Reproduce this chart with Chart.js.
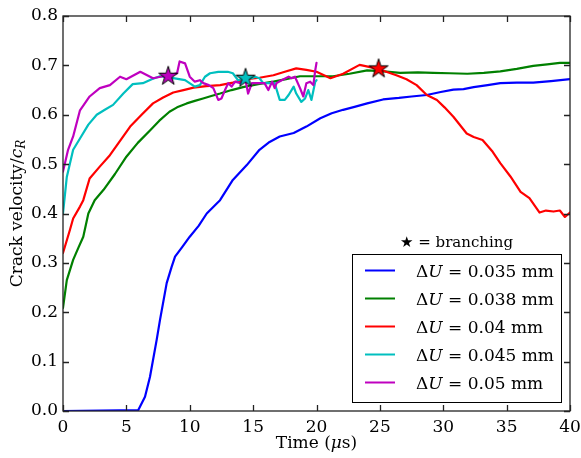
<!DOCTYPE html>
<html>
<head>
<meta charset="utf-8">
<title>Crack velocity</title>
<script src="https://cdn.jsdelivr.net/npm/chart.js@4.4.1/dist/chart.umd.min.js"></script>
<style>
  html, body { margin: 0; padding: 0; background: #fff; }
  #wrap { width: 581px; height: 458px; }
</style>
</head>
<body>
<div id="wrap"><canvas id="chart" width="581" height="458"></canvas></div>
<script>
// ---- data ----
const seriesLabels = ['0.035', '0.038', '0.04', '0.045', '0.05'];
const seriesColors = ['#0000ff', '#008000', '#ff0000', '#00bfbf', '#bf00bf'];

const t035 = [0, 5.94, 6.47, 6.86, 7.39, 7.65, 8.18, 8.57, 8.84, 9.4, 10.0, 10.7, 11.34, 12.39, 13.4, 14.5, 15.5, 16.3, 17.1, 18.2, 19.2, 20.3, 21.2, 22.1, 23.0, 24.0, 25.25, 26.5, 27.5, 28.7, 29.8, 30.8, 31.6, 32.4, 33.5, 34.5, 35.8, 37.1, 38.5, 40];
const v035 = [0, 0.002, 0.029, 0.069, 0.144, 0.184, 0.259, 0.292, 0.3125, 0.332, 0.353, 0.375, 0.40, 0.427, 0.468, 0.498, 0.529, 0.545, 0.556, 0.563, 0.576, 0.593, 0.603, 0.61, 0.616, 0.623, 0.631, 0.634, 0.637, 0.640, 0.646, 0.651, 0.652, 0.656, 0.66, 0.664, 0.665, 0.665, 0.668, 0.672];

const t038 = [0, 0.3, 0.8, 1.2, 1.6, 2.0, 2.5, 3.2, 4.1, 5.0, 5.9, 6.9, 7.6, 8.4, 9.0, 9.76, 10.4, 11.05, 11.7, 12.4, 13.3, 14.2, 15.4, 16.6, 17.6, 18.7, 20.3, 21.3, 22.6, 24.0, 25.3, 26.6, 28.0, 29.2, 30.5, 31.9, 33.2, 34.5, 35.8, 37.1, 38.2, 39.2, 40];
const v038 = [0.209, 0.265, 0.306, 0.33, 0.353, 0.40, 0.427, 0.448, 0.48, 0.515, 0.543, 0.569, 0.588, 0.606, 0.615, 0.623, 0.628, 0.633, 0.638, 0.643, 0.65, 0.656, 0.662, 0.667, 0.672, 0.678, 0.678, 0.678, 0.683, 0.69, 0.688, 0.685, 0.686, 0.685, 0.684, 0.683, 0.685, 0.688, 0.693, 0.699, 0.702, 0.705, 0.705];

const t040 = [0, 0.55, 0.8, 1.34, 1.6, 2.1, 2.9, 3.7, 4.5, 5.3, 6.2, 7.1, 7.9, 8.7, 9.5, 10.3, 11.3, 12.4, 13.4, 14.5, 15.5, 16.6, 17.5, 18.4, 19.2, 20.0, 21.1, 22.1, 23.4, 24.7, 25.5, 26.3, 27.1, 27.9, 28.7, 29.5, 30.1, 30.8, 31.85, 32.4, 33.1, 33.9, 34.5, 35.3, 36.1, 36.8, 37.6, 38.1, 38.7, 39.2, 39.6, 40];
const v040 = [0.32, 0.367, 0.39, 0.414, 0.427, 0.471, 0.495, 0.518, 0.547, 0.576, 0.60, 0.623, 0.635, 0.645, 0.65, 0.655, 0.658, 0.66, 0.665, 0.672, 0.675, 0.68, 0.687, 0.694, 0.691, 0.687, 0.674, 0.683, 0.701, 0.694, 0.687, 0.68, 0.672, 0.66, 0.64, 0.63, 0.615, 0.596, 0.562, 0.555, 0.549, 0.525, 0.502, 0.475, 0.444, 0.431, 0.402, 0.406, 0.404, 0.406, 0.393, 0.402];

const t045 = [0, 0.3, 0.8, 1.34, 2.0, 2.66, 3.3, 3.95, 4.76, 5.5, 6.3, 7.0, 7.65, 8.7, 9.63, 10.4, 10.8, 11.2, 11.6, 12.25, 13.0, 13.4, 13.8, 14.36, 14.9, 15.15, 15.5, 15.8, 16.7, 17.1, 17.5, 17.8, 18.2, 18.4, 18.8, 19.1, 19.35, 19.6, 19.9, 20.0];
const v045 = [0.40, 0.474, 0.529, 0.552, 0.58, 0.60, 0.61, 0.62, 0.643, 0.662, 0.664, 0.672, 0.678, 0.674, 0.67, 0.657, 0.66, 0.677, 0.684, 0.687, 0.687, 0.684, 0.670, 0.674, 0.674, 0.677, 0.674, 0.664, 0.664, 0.63, 0.63, 0.640, 0.657, 0.643, 0.626, 0.633, 0.65, 0.63, 0.667, 0.67];

const t050 = [0, 0.4, 0.8, 1.34, 2.1, 2.9, 3.7, 4.5, 5.0, 6.1, 7.1, 8.3, 9.0, 9.2, 9.63, 10.0, 10.4, 10.8, 11.07, 11.5, 11.86, 12.25, 12.5, 12.78, 13.04, 13.3, 13.57, 14.0, 14.36, 14.5, 14.6, 14.9, 15.7, 15.9, 16.2, 16.5, 16.7, 16.85, 17.25, 17.8, 18.04, 18.3, 18.7, 18.96, 19.2, 19.5, 19.75, 19.9, 20.0];
const v050 = [0.485, 0.529, 0.556, 0.609, 0.637, 0.654, 0.66, 0.677, 0.672, 0.687, 0.674, 0.68, 0.684, 0.708, 0.704, 0.677, 0.667, 0.670, 0.664, 0.660, 0.654, 0.630, 0.633, 0.650, 0.664, 0.657, 0.667, 0.664, 0.674, 0.657, 0.643, 0.664, 0.664, 0.664, 0.650, 0.667, 0.654, 0.664, 0.670, 0.677, 0.674, 0.677, 0.654, 0.637, 0.664, 0.667, 0.66, 0.69, 0.705];

// branching points
const starT = [8.3, 14.4, 24.9];
const starV = [0.679, 0.675, 0.694];
const starColors = ['#bf00bf', '#00bfbf', '#ff0000'];

const xTicks = [0, 5, 10, 15, 20, 25, 30, 35, 40];
const yTicks = [0.0, 0.1, 0.2, 0.3, 0.4, 0.5, 0.6, 0.7, 0.8];

const FONT = "'DejaVu Serif', serif";

function pts(ts, vs) { return ts.map((t, i) => ({ x: t, y: vs[i] })); }

function starImage(color) {
  const c = document.createElement('canvas');
  c.width = 24; c.height = 24;
  const g = c.getContext('2d');
  g.beginPath();
  for (let i = 0; i < 10; i++) {
    const r = i % 2 ? 3.8 : 10;
    const a = -Math.PI / 2 + i * Math.PI / 5;
    g.lineTo(12 + r * Math.cos(a), 12.5 + r * Math.sin(a));
  }
  g.closePath();
  g.fillStyle = color; g.fill();
  g.lineWidth = 1; g.strokeStyle = '#000'; g.stroke();
  return c;
}

// draw a row of text pieces (some italic / subscript), returns end x
function drawRuns(ctx, runs, x, y, size) {
  runs.forEach(r => {
    const s = r.size || size;
    ctx.font = (r.italic ? 'italic ' : '') + s + 'px ' + (r.family || FONT);
    ctx.fillText(r.text, x, y + (r.dy || 0));
    x += ctx.measureText(r.text).width;
  });
  return x;
}
function runsWidth(ctx, runs, size) {
  let w = 0;
  runs.forEach(r => {
    ctx.font = (r.italic ? 'italic ' : '') + (r.size || size) + 'px ' + (r.family || FONT);
    w += ctx.measureText(r.text).width;
  });
  return w;
}

const decorations = {
  id: 'decorations',
  afterDraw(chart) {
    const { ctx, chartArea: a, scales: { x, y } } = chart;
    ctx.save();
    // frame and inward ticks on all four sides
    ctx.strokeStyle = '#222';
    ctx.lineWidth = 1.3;
    ctx.strokeRect(a.left, a.top, a.right - a.left, a.bottom - a.top);
    ctx.beginPath();
    xTicks.forEach(v => {
      const px = Math.round(x.getPixelForValue(v)) + 0.5;
      ctx.moveTo(px, a.bottom); ctx.lineTo(px, a.bottom - 6);
      ctx.moveTo(px, a.top); ctx.lineTo(px, a.top + 6);
    });
    yTicks.forEach(v => {
      const py = Math.round(y.getPixelForValue(v)) + 0.5;
      ctx.moveTo(a.left, py); ctx.lineTo(a.left + 6, py);
      ctx.moveTo(a.right, py); ctx.lineTo(a.right - 6, py);
    });
    ctx.stroke();

    ctx.fillStyle = '#000';
    ctx.textBaseline = 'alphabetic';
    ctx.textAlign = 'left';

    // x axis title
    const xt = [{ text: 'Time (' }, { text: 'μ', italic: true }, { text: 's)' }];
    const xw = runsWidth(ctx, xt, 17);
    drawRuns(ctx, xt, (a.left + a.right) / 2 - xw / 2, 448, 17);

    // y axis title, rotated
    const yt = [{ text: 'Crack velocity/' }, { text: 'c', italic: true }, { text: 'R', italic: true, size: 12, dy: 3 }];
    const yw = runsWidth(ctx, yt, 17);
    ctx.save();
    ctx.translate(22, (a.top + a.bottom) / 2);
    ctx.rotate(-Math.PI / 2);
    drawRuns(ctx, yt, -yw / 2, 0, 17);
    ctx.restore();

    // legend box
    const bw = 209, bh = 148;
    const bx = a.right - 9 - bw, by = a.bottom - 9 - bh;
    ctx.fillStyle = '#fff';
    ctx.fillRect(bx, by, bw, bh);
    ctx.strokeStyle = '#000';
    ctx.lineWidth = 1;
    ctx.strokeRect(bx + 0.5, by + 0.5, bw, bh);
    seriesLabels.forEach((lab, i) => {
      const ry = by + 16.5 + i * 28;
      ctx.strokeStyle = seriesColors[i];
      ctx.lineWidth = 2;
      ctx.beginPath();
      ctx.moveTo(bx + 13, ry); ctx.lineTo(bx + 43, ry);
      ctx.stroke();
      ctx.fillStyle = '#000';
      drawRuns(ctx, [{ text: 'Δ' }, { text: 'U', italic: true }, { text: ' = ' + lab + ' mm' }], bx + 64, ry + 6, 17);
    });

    // legend title
    const tt = [{ text: '★', family: "'DejaVu Sans', sans-serif" }, { text: ' = branching' }];
    const tw = runsWidth(ctx, tt, 15);
    ctx.fillStyle = '#000';
    drawRuns(ctx, tt, bx + bw / 2 - tw / 2, by - 7, 15);
    ctx.restore();
  }
};

const datasets = [
  [t035, v035], [t038, v038], [t040, v040], [t045, v045], [t050, v050]
].map(([ts, vs], i) => ({
  label: 'ΔU = ' + seriesLabels[i] + ' mm',
  data: pts(ts, vs),
  borderColor: seriesColors[i],
  borderWidth: 2.2,
  borderJoinStyle: 'round',
  borderCapStyle: 'round',
  pointRadius: 0,
  tension: 0,
  fill: false,
  order: 5 - i
}));

datasets.push({
  label: 'branching',
  data: pts(starT, starV),
  showLine: false,
  pointStyle: starColors.map(starImage),
  pointRadius: 10,
  order: 0
});

new Chart(document.getElementById('chart'), {
  type: 'line',
  data: { datasets },
  options: {
    responsive: false,
    devicePixelRatio: 1,
    animation: false,
    layout: { padding: { top: 16, right: 11, left: 0, bottom: 0 } },
    plugins: { legend: { display: false }, tooltip: { enabled: false } },
    scales: {
      x: {
        type: 'linear', min: 0, max: 40,
        grid: { display: false, drawTicks: false },
        border: { display: false },
        afterBuildTicks: s => { s.ticks = xTicks.map(v => ({ value: v })); },
        afterFit: s => { s.height = 47; s.paddingLeft = 0; s.paddingRight = 0; },
        ticks: { font: { family: FONT, size: 17 }, color: '#000', padding: 6, maxRotation: 0, autoSkip: false }
      },
      y: {
        type: 'linear', min: 0, max: 0.8,
        grid: { display: false, drawTicks: false },
        border: { display: false },
        afterBuildTicks: s => { s.ticks = yTicks.map(v => ({ value: v })); },
        afterFit: s => { s.width = 63; s.paddingTop = 0; s.paddingBottom = 0; },
        ticks: { font: { family: FONT, size: 17 }, color: '#000', padding: 5, callback: v => v.toFixed(1) }
      }
    }
  },
  plugins: [decorations]
});
</script>
</body>
</html>
